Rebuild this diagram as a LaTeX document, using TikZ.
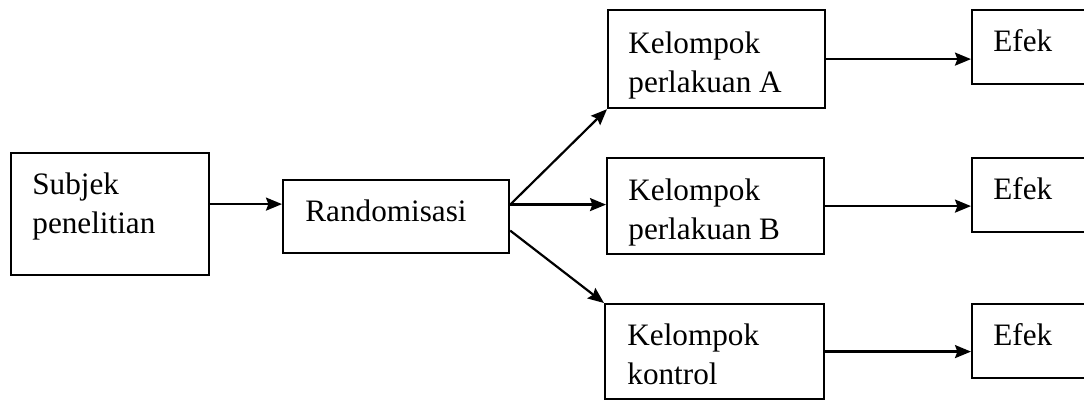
\documentclass[tikz,border=0pt]{standalone}
\usepackage{fontspec}
\setmainfont{Liberation Serif}
\usetikzlibrary{arrows.meta}

\tikzset{
  kotak/.style={draw=black,line width=1.1pt,inner sep=0pt,anchor=north west,minimum width=#1},
  teks/.style={inner sep=0pt,anchor=north west,align=left,font=\fontsize{15.6}{19.5}\selectfont},
  panah/.style={-{Stealth[length=8pt,width=6.5pt,inset=1.2pt]},line width=1.1pt}
}

\begin{document}
\begin{tikzpicture}[x=0.5pt,y=-0.5pt]

\useasboundingbox (0,0) rectangle (1084,401);
\clip (0,0) rectangle (1084,401);

% kotak kiri
\node[kotak=99pt,minimum height=61pt] (subjek) at (10,152) {};
\node[kotak=113pt,minimum height=36.5pt] (acak) at (282,179) {};
\node[teks] (subjekteks) at ([shift={(22,20)}]subjek.north west) {Subjek\\penelitian};
\node[teks] (acakteks) at ([shift={(23,20)}]acak.north west) {Randomisasi};

% kelompok
\node[kotak=108.5pt,minimum height=49pt] (kelA) at (607,9) {};
\node[kotak=108.5pt,minimum height=48pt] (kelB) at (606,157) {};
\node[kotak=109.5pt,minimum height=47.5pt] (kelC) at (604,303) {};
\node[teks] (kelteksA) at ([shift={(21,22)}]kelA.north west) {Kelompok\\perlakuan A};
\node[teks] (kelteksB) at ([shift={(22,21)}]kelB.north west) {Kelompok\\perlakuan B};
\node[teks] (kelteksC) at ([shift={(23,20)}]kelC.north west) {Kelompok\\kontrol};

% efek (terpotong di kanan)
\foreach \k/\y in {A/9,B/157,C/303} {
  \node[kotak=70pt,minimum height=37pt] (efek\k) at (971,\y) {};
  \node[teks] (efekteks\k) at ([shift={(22,20)}]efek\k.north west) {Efek};
}

% panah
\draw[panah] ([yshift=5pt]subjek.east) -- ([yshift=5pt]subjek.east -| acak.west);
\draw[panah] ([yshift=6pt]acak.east) -- (kelA.south west);
\draw[panah] ([yshift=6pt]acak.east) -- ([yshift=6pt]acak.east -| kelB.west);
\draw[panah] ([yshift=-7pt]acak.east) -- (kelC.north west);
\foreach \k in {A,B,C}
	\draw[panah] (kel\k.east) -- (kel\k.east -| efek\k.west);

\end{tikzpicture}
\end{document}
